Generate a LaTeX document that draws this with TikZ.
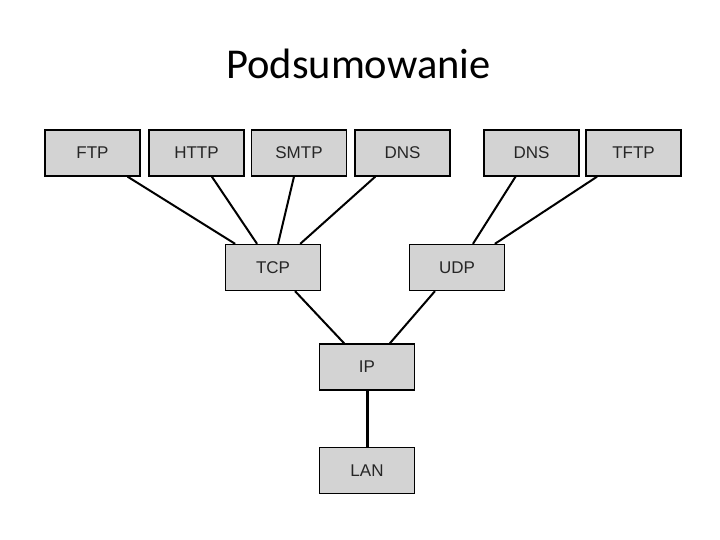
\documentclass[tikz,border=0pt]{standalone}
\usepackage{fontspec}
\setmainfont{Liberation Sans}
\newfontfamily\titlefont{Carlito}
\usepackage{xcolor}
\usepackage{tikz}
\usetikzlibrary{positioning}

\definecolor{boxgray}{HTML}{D3D3D3}

\begin{document}
\begin{tikzpicture}[x=1pt, y=-1pt,
        box/.style={rectangle, draw=black, line width=1.3pt, fill=boxgray,
            minimum width=95pt, minimum height=46pt, inner sep=0pt,
            text=black!85, font=\fontsize{17}{20}\selectfont},
        link/.style={line width=2pt}]

        \useasboundingbox (0,0) rectangle (720,540);

        \node[anchor=base, font=\titlefont\fontsize{42.5}{50}\selectfont] (title) at (358.5,79) {Podsumowanie};

        \node[box] (ftp) at (92.5,153) {FTP};
        \node[box] (http) at (196.5,153) {HTTP};
        \node[box] (smtp) at (299,153) {SMTP};
        \node[box] (dns) at (402.5,153) {DNS};

        \node[box] (dnsb) at (531.5,153) {DNS};
        \node[box] (tftp) at (633.5,153) {TFTP};

        \node[box] (tcp) at (273,267.5) {TCP};
        \node[box] (udp) at (457,267.5) {UDP};

        \node[box] (ip) at (367,367) {IP};
        \node[box] (lan) at (367,470.5) {LAN};

        \draw[link] (ftp.-34) -- (tcp.148);
        \draw[link] (http.-57) -- (tcp.124);
        \draw[link] (smtp.-102) -- (tcp.78);
        \draw[link] (dns.-139) -- (tcp.41);

        \draw[link] (dnsb.-124) -- (udp.56);
        \draw[link] (tftp.-147) -- (udp.32);

        \draw[link] (tcp.-47) -- (ip.134);
        \draw[link] (udp.-133) -- (ip.46);

        \draw[line width=3pt] (ip) -- (lan);
    \end{tikzpicture}
\end{document}
